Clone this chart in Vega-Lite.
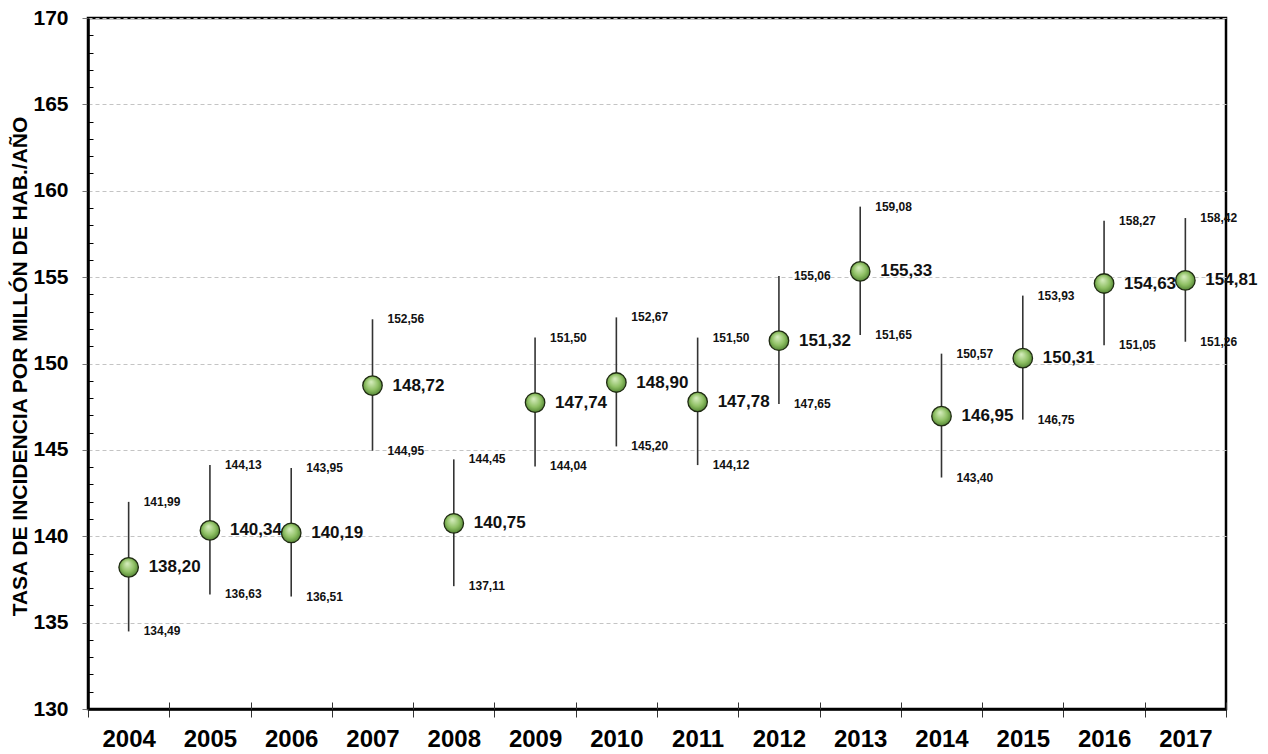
{
  "$schema": "https://vega.github.io/schema/vega-lite/v6.json",
  "autosize": {"type": "none"},
  "padding": {"left": 88, "top": 18, "right": 42, "bottom": 45},
  "width": 1138,
  "height": 691,
  "background": "white",
  "view": {"stroke": "black", "strokeWidth": 2.5, "fill": "white"},
  "config": {
    "locale": {"number": {"decimal": ",", "thousands": ".", "grouping": [3], "currency": ["", " €"]}},
    "font": "Liberation Sans"
  },
  "data": {
    "values": [
      {"year": "2004", "mean": 138.20, "lower": 134.49, "upper": 141.99},
      {"year": "2005", "mean": 140.34, "lower": 136.63, "upper": 144.13},
      {"year": "2006", "mean": 140.19, "lower": 136.51, "upper": 143.95},
      {"year": "2007", "mean": 148.72, "lower": 144.95, "upper": 152.56},
      {"year": "2008", "mean": 140.75, "lower": 137.11, "upper": 144.45},
      {"year": "2009", "mean": 147.74, "lower": 144.04, "upper": 151.50},
      {"year": "2010", "mean": 148.90, "lower": 145.20, "upper": 152.67},
      {"year": "2011", "mean": 147.78, "lower": 144.12, "upper": 151.50},
      {"year": "2012", "mean": 151.32, "lower": 147.65, "upper": 155.06},
      {"year": "2013", "mean": 155.33, "lower": 151.65, "upper": 159.08},
      {"year": "2014", "mean": 146.95, "lower": 143.40, "upper": 150.57},
      {"year": "2015", "mean": 150.31, "lower": 146.75, "upper": 153.93},
      {"year": "2016", "mean": 154.63, "lower": 151.05, "upper": 158.27},
      {"year": "2017", "mean": 154.81, "lower": 151.26, "upper": 158.42}
    ]
  },
  "resolve": {"axis": {"x": "independent", "y": "independent"}},
  "layer": [
    {
      "mark": {"type": "rule", "color": "#333333", "strokeWidth": 1.6},
      "encoding": {
        "x": {
          "field": "year", "type": "ordinal",
          "scale": {"type": "band", "paddingInner": 0, "paddingOuter": 0},
          "axis": {
            "orient": "bottom", "title": null, "labelAngle": 0,
            "labelFont": "Liberation Sans", "labelFontSize": 24, "labelFontWeight": "bold", "labelColor": "#000",
            "labelPadding": 10, "tickBand": "extent", "tickSize": 8, "tickColor": "#333", "tickWidth": 1,
            "domainColor": "#000", "domainWidth": 2.5, "grid": false
          }
        },
        "y": {
          "field": "lower", "type": "quantitative",
          "scale": {"domain": [130, 170], "nice": false, "zero": false},
          "axis": {
            "orient": "left", "title": "TASA DE INCIDENCIA POR MILLÓN DE HAB./AÑO",
            "titleFont": "Liberation Sans", "titleFontSize": 21, "titleFontWeight": "bold", "titleColor": "#000",
            "titleAngle": -90, "titleX": -68, "titleY": 348, "titleAlign": "center", "titleBaseline": "middle",
            "values": [130, 135, 140, 145, 150, 155, 160, 165, 170],
            "labelFont": "Liberation Sans", "labelFontSize": 21, "labelFontWeight": "bold", "labelColor": "#000",
            "labelPadding": 14, "tickSize": 6, "tickColor": "#777", "tickWidth": 1,
            "domainColor": "#000", "domainWidth": 2.5,
            "grid": true, "gridColor": "#c4c4c4", "gridDash": [4, 3], "gridWidth": 1
          }
        },
        "y2": {"field": "upper"}
      }
    },
    {
      "mark": {
        "type": "point", "filled": true, "size": 380, "opacity": 1,
        "fill": {
          "gradient": "radial", "x1": 0.42, "y1": 0.3, "r1": 0, "x2": 0.5, "y2": 0.5, "r2": 0.6,
          "stops": [{"offset": 0, "color": "#d9efc2"}, {"offset": 0.55, "color": "#8ebf63"}, {"offset": 1, "color": "#3f7224"}]
        },
        "stroke": "#1f2a12", "strokeWidth": 1.3
      },
      "encoding": {
        "x": {"field": "year", "type": "ordinal", "axis": null},
        "y": {"field": "mean", "type": "quantitative", "axis": null}
      }
    },
    {
      "mark": {"type": "text", "align": "left", "baseline": "middle", "dx": 20, "fontSize": 17, "fontWeight": "bold", "color": "#111", "font": "Liberation Sans"},
      "encoding": {
        "x": {"field": "year", "type": "ordinal", "axis": null},
        "y": {"field": "mean", "type": "quantitative", "axis": null},
        "text": {"field": "mean", "type": "quantitative", "format": ".2f"}
      }
    },
    {
      "mark": {"type": "text", "align": "left", "baseline": "middle", "dx": 15, "fontSize": 12, "fontWeight": "bold", "color": "#111", "font": "Liberation Sans"},
      "encoding": {
        "x": {"field": "year", "type": "ordinal", "axis": null},
        "y": {
          "field": "upper", "type": "quantitative",
          "axis": {
            "orient": "left", "title": null, "labels": false, "domain": false, "grid": false,
            "values": [131, 132, 133, 134, 136, 137, 138, 139, 141, 142, 143, 144, 146, 147, 148, 149, 151, 152, 153, 154, 156, 157, 158, 159, 161, 162, 163, 164, 166, 167, 168, 169],
            "tickSize": -5, "tickColor": "#000", "tickWidth": 1
          }
        },
        "text": {"field": "upper", "type": "quantitative", "format": ".2f"}
      }
    },
    {
      "mark": {"type": "text", "align": "left", "baseline": "middle", "dx": 15, "fontSize": 12, "fontWeight": "bold", "color": "#111", "font": "Liberation Sans"},
      "encoding": {
        "x": {
          "field": "year", "type": "ordinal",
          "axis": {"orient": "bottom", "title": null, "labels": false, "domain": false, "grid": false, "tickBand": "extent", "tickSize": -7, "tickColor": "#333", "tickWidth": 1}
        },
        "y": {"field": "lower", "type": "quantitative", "axis": null},
        "text": {"field": "lower", "type": "quantitative", "format": ".2f"}
      }
    }
  ]
}
